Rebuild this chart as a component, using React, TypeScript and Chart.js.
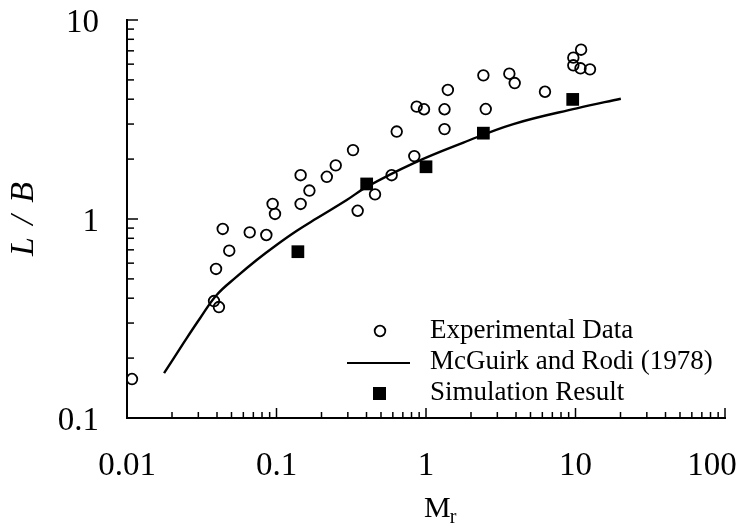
import React, { useEffect, useRef } from "react";
import { Chart, registerables } from "chart.js";

Chart.register(...registerables);

// Experimental data (open circles)
const expX = [0.0108, 0.0382, 0.0412, 0.0394, 0.0437, 0.0483, 0.0662, 0.0855, 0.0942, 0.0977, 0.145, 0.145, 0.166, 0.217, 0.249, 0.325, 0.349, 0.456, 0.589, 0.637, 0.835, 0.866, 0.97, 1.33, 1.33, 1.4, 2.42, 2.51, 3.61, 3.92, 6.25, 9.67, 9.67, 10.9, 10.8, 12.5];
const expY = [0.157, 0.387, 0.361, 0.561, 0.891, 0.693, 0.857, 0.831, 1.19, 1.06, 1.19, 1.66, 1.39, 1.63, 1.86, 2.22, 1.1, 1.33, 1.66, 2.75, 2.07, 3.67, 3.56, 3.56, 2.83, 4.45, 5.27, 3.57, 5.37, 4.82, 4.36, 6.47, 5.92, 7.09, 5.72, 5.65];

// McGuirk and Rodi (1978) curve
const modelX = [0.0177, 0.0238, 0.0308, 0.0398, 0.0542, 0.0737, 0.1, 0.136, 0.186, 0.295, 0.401, 0.822, 1.78, 3.84, 10.2, 20.1];
const modelY = [0.168, 0.237, 0.317, 0.415, 0.513, 0.622, 0.74, 0.87, 1.008, 1.246, 1.45, 1.905, 2.42, 3.0, 3.6, 4.02];

// Simulation result (filled squares)
const simX = [0.139, 0.401, 1.0, 2.42, 9.58];
const simY = [0.685, 1.5, 1.83, 2.7, 3.99];

// Tick labels
const xTickLabels = ["0.01", "0.1", "1", "10", "100"];
const yTickLabels = ["0.1", "1", "10"];

const legendLabels = ["Experimental Data", "McGuirk and Rodi (1978)", "Simulation Result"];
const xTitle = ["M", "r"];
const yTitle = "L / B";

const SERIF = "'Liberation Serif', 'Times New Roman', serif";

const decorPlugin = {
  id: "decor",
  afterDraw(chart: any) {
    const ctx = chart.ctx;
    const xs = chart.scales.x;
    const ys = chart.scales.y;
    const area = chart.chartArea;
    ctx.save();
    ctx.strokeStyle = "#000";
    ctx.fillStyle = "#000";
    ctx.lineWidth = 1.5;
    // inward ticks
    const xVals = xTickLabels.map(Number);
    for (let d = 0; d < xVals.length; d++) {
      for (let m = 1; m <= 9; m++) {
        const v = xVals[d] * m;
        if (v > xVals[xVals.length - 1] + 1e-9) break;
        const px = xs.getPixelForValue(v);
        const len = m === 1 ? 10 : 6;
        ctx.beginPath();
        ctx.moveTo(px, area.bottom);
        ctx.lineTo(px, area.bottom - len);
        ctx.stroke();
      }
    }
    const yVals = yTickLabels.map(Number);
    for (let d = 0; d < yVals.length; d++) {
      for (let m = 1; m <= 9; m++) {
        const v = yVals[d] * m;
        if (v > yVals[yVals.length - 1] + 1e-9) break;
        const py = ys.getPixelForValue(v);
        const len = m === 1 ? 11 : 7;
        ctx.beginPath();
        ctx.moveTo(area.left, py);
        ctx.lineTo(area.left + len, py);
        ctx.stroke();
      }
    }

    // tick labels
    ctx.font = `33px ${SERIF}`;
    ctx.textBaseline = "alphabetic";
    ctx.textAlign = "center";
    xTickLabels.forEach((t, i) => {
      const px = xs.getPixelForValue(Number(t));
      const shift = i === xTickLabels.length - 1 ? -13 : 0;
      ctx.fillText(t, px + shift, area.bottom + 57);
    });
    ctx.textAlign = "right";
    yTickLabels.forEach((t) => {
      const py = ys.getPixelForValue(Number(t));
      ctx.fillText(t, area.left - 28, py + 12);
    });

    // legend
    ctx.font = `27px ${SERIF}`;
    ctx.textBaseline = "middle";
    ctx.textAlign = "left";
    const lx = 430;
    const rows = [331, 362, 393];
    ctx.lineWidth = 1.8;
    ctx.beginPath();
    ctx.arc(380, rows[0], 5.3, 0, Math.PI * 2);
    ctx.stroke();
    ctx.lineWidth = 2.2;
    ctx.beginPath();
    ctx.moveTo(347, rows[1] + 1);
    ctx.lineTo(410, rows[1] + 1);
    ctx.stroke();
    ctx.fillRect(373, rows[2] - 6, 13, 13);
    legendLabels.forEach((t, i) => ctx.fillText(t, lx, rows[i]));

    // axis titles
    ctx.font = `italic 34px ${SERIF}`;
    ctx.textAlign = "center";
    ctx.save();
    try { (ctx as any).letterSpacing = "2px"; } catch (e) {}
    ctx.translate(24, 218);
    ctx.rotate(-Math.PI / 2);
    ctx.fillText(yTitle, 0, 0);
    ctx.restore();

    ctx.textBaseline = "alphabetic";
    ctx.textAlign = "left";
    ctx.font = `30px ${SERIF}`;
    ctx.fillText(xTitle[0], 424, 517);
    const mw = ctx.measureText(xTitle[0]).width;
    ctx.font = `20px ${SERIF}`;
    ctx.fillText(xTitle[1], 424 + mw - 1, 523);
    ctx.restore();
  },
};

export default function App() {
  const ref = useRef<HTMLCanvasElement | null>(null);
  useEffect(() => {
    if (!ref.current) return;
    const chart = new Chart(ref.current, {
      type: "scatter",
      data: {
        datasets: [
          {
            label: legendLabels[1],
            type: "line",
            data: modelX.map((x, i) => ({ x, y: modelY[i] })),
            borderColor: "#000",
            borderWidth: 2.4,
            pointRadius: 0,
            fill: false,
            tension: 0.4,
          } as any,
          {
            label: legendLabels[0],
            data: expX.map((x, i) => ({ x, y: expY[i] })),
            pointStyle: "circle",
            pointRadius: 5.3,
            borderColor: "#000",
            borderWidth: 1.8,
            backgroundColor: "rgba(255,255,255,0)",
          },
          {
            label: legendLabels[2],
            data: simX.map((x, i) => ({ x, y: simY[i] })),
            pointStyle: "rect",
            pointRadius: 9,
            borderColor: "#000",
            borderWidth: 0,
            backgroundColor: "#000",
          },
        ],
      },
      options: {
        animation: false,
        responsive: true,
        maintainAspectRatio: false,
        layout: { padding: { left: 0, top: 20, right: 31, bottom: 0 } },
        plugins: { legend: { display: false }, tooltip: { enabled: false } },
        scales: {
          x: {
            type: "logarithmic",
            min: 0.01,
            max: 100,
            afterFit: (s: any) => {
              s.height = 109;
            },
            ticks: { display: false },
            grid: { display: true, drawOnChartArea: false, drawTicks: false },
            border: { display: true, color: "#000", width: 2 },
          },
          y: {
            type: "logarithmic",
            min: 0.1,
            max: 10,
            afterFit: (s: any) => {
              s.width = 127;
            },
            ticks: { display: false },
            grid: { display: true, drawOnChartArea: false, drawTicks: false },
            border: { display: true, color: "#000", width: 2 },
          },
        },
      },
      plugins: [decorPlugin],
    });
    return () => chart.destroy();
  }, []);
  return (
    <div style={{ position: "absolute", left: 0, top: 0, width: 756, height: 527, background: "#fff" }}>
      <canvas ref={ref} />
    </div>
  );
}
